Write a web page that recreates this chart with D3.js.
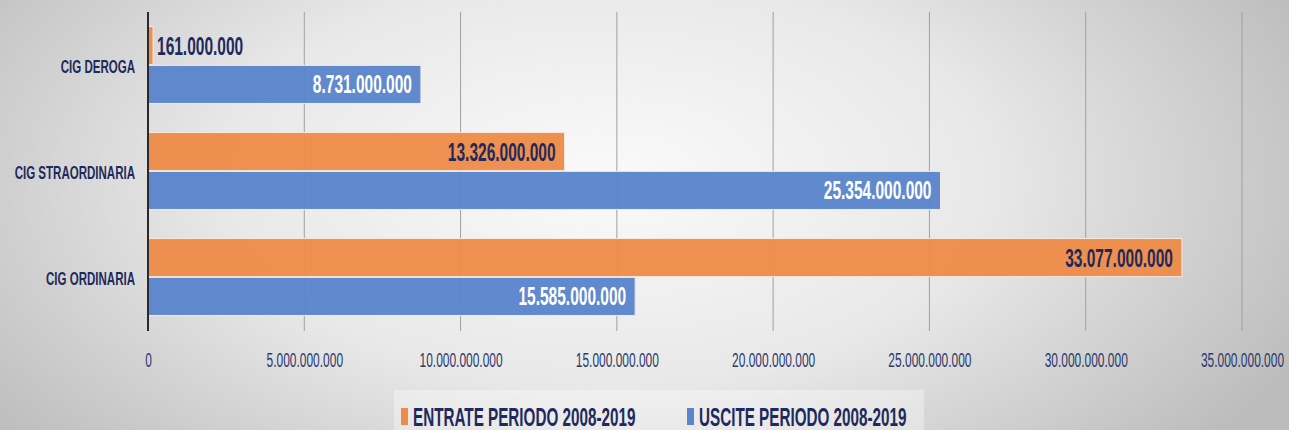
<!DOCTYPE html>
<html>
<head>
<meta charset="utf-8">
<script src="https://cdn.jsdelivr.net/npm/d3@7"></script>
<style>
  body { margin: 0; overflow: hidden; }
  text { font-family: "Liberation Sans", Arial, sans-serif; }
</style>
</head>
<body>
<div id="chart"></div>
<script>
// categories (top to bottom) and the two series
var categories = ["CIG DEROGA", "CIG STRAORDINARIA", "CIG ORDINARIA"];
var seriesNames = ["ENTRATE PERIODO 2008-2019", "USCITE PERIODO 2008-2019"];
var entrate = [161000000, 13326000000, 33077000000];
var uscite = [8731000000, 25354000000, 15585000000];
var tickValues = [0, 5e9, 10e9, 15e9, 20e9, 25e9, 30e9, 35e9];

var colors = ["#ED8B49", "#5B84CB"];
var navy = "#1F2A5C";

var W = 1289, H = 430;

// the original text is a narrow (Calibri-like) face, squeeze it horizontally
var SQ_LABEL = 0.62, SQ_TICK = 0.57, SQ_CAT = 0.64, SQ_LEG = 0.61;

// italian number format: dots for thousands
var it = d3.formatLocale({decimal: ",", thousands: ".", grouping: [3], currency: ["€", ""]});
var fmt = it.format(",d");

var svg = d3.select("#chart").append("svg")
    .attr("width", W)
    .attr("height", H);

// background gradient
var defs = svg.append("defs");
var grad = defs.append("radialGradient")
    .attr("id", "bg")
    .attr("cx", "0.47").attr("cy", "0.45").attr("r", "0.6")
    .attr("gradientTransform", "translate(0,-0.3) scale(1,1.6)");
grad.append("stop").attr("offset", "0%").attr("stop-color", "#fafafa");
grad.append("stop").attr("offset", "50%").attr("stop-color", "#e8e8e8");
grad.append("stop").attr("offset", "100%").attr("stop-color", "#bcbcbc");

svg.append("rect").attr("width", W).attr("height", H).attr("fill", "url(#bg)");

// scales
var x = d3.scaleLinear().domain([0, 35e9]).range([148, 1242]);
var y = d3.scaleBand().domain(categories).range([12, 330])
    .paddingInner(0.26).paddingOuter(0.13);
var ySub = d3.scaleBand().domain([0, 1]).range([0, y.bandwidth()]).padding(0.02);

// gridlines (extend a bit below as tick marks)
svg.append("g")
    .selectAll("line")
    .data(tickValues.slice(1))
    .enter()
    .append("line")
    .attr("x1", function (d) { return x(d); })
    .attr("x2", function (d) { return x(d); })
    .attr("y1", 12)
    .attr("y2", 331)
    .attr("stroke", "#a0a0a0")
    .attr("stroke-width", 1);

// x axis labels
var xAxis = svg.append("g")
    .attr("transform", "translate(0,331)")
    .call(d3.axisBottom(x).tickValues(tickValues).tickSize(0).tickPadding(21).tickFormat(function (d) { return fmt(d); }));
xAxis.select(".domain").remove();
xAxis.selectAll("text")
    .attr("fill", "#2D3A6C")
    .attr("transform", "scale(" + SQ_TICK + ",1)")
    .style("font-size", "21px");

// bars
var rows = categories.map(function (c, i) {
    return {cat: c, vals: [entrate[i], uscite[i]]};
});

var groups = svg.selectAll(".grp")
    .data(rows)
    .enter()
    .append("g")
    .attr("class", "grp")
    .attr("transform", function (d) { return "translate(0," + y(d.cat) + ")"; });

groups.selectAll("rect")
    .data(function (d) { return d.vals.map(function (v, k) { return {v: v, k: k}; }); })
    .enter()
    .append("rect")
    .attr("x", x(0))
    .attr("y", function (d) { return ySub(d.k); })
    .attr("width", function (d) { return x(d.v) - x(0); })
    .attr("height", ySub.bandwidth())
    .attr("fill", function (d) { return colors[d.k]; })
    .attr("fill-opacity", 0.96)
    .attr("stroke", "#f4e9e0")
    .attr("stroke-width", 1);

// data labels: outside the bar when it is too short
function isShort(d) { return x(d.v) - x(0) < 100; }

groups.selectAll(".lbl")
    .data(function (d) { return d.vals.map(function (v, k) { return {v: v, k: k}; }); })
    .enter()
    .append("text")
    .attr("class", "lbl")
    .attr("transform", function (d) {
        var tx = isShort(d) ? x(d.v) + 4 : x(d.v) - 9;
        var ty = ySub(d.k) + ySub.bandwidth() / 2;
        return "translate(" + tx + "," + ty + ") scale(" + SQ_LABEL + ",1)";
    })
    .attr("dy", "0.36em")
    .attr("text-anchor", function (d) { return isShort(d) ? "start" : "end"; })
    .attr("fill", function (d) {
        if (isShort(d)) return navy;
        return d.k === 0 ? navy : "#ffffff";
    })
    .style("font-size", "25px")
    .style("font-weight", "bold")
    .text(function (d) { return fmt(d.v); });

// left axis line
svg.append("line")
    .attr("x1", x(0)).attr("x2", x(0))
    .attr("y1", 12).attr("y2", 331)
    .attr("stroke", "#2a2a2a")
    .attr("stroke-width", 2);

// category labels
svg.append("g")
    .selectAll("text")
    .data(categories)
    .enter()
    .append("text")
    .attr("transform", function (d) {
        return "translate(135," + (y(d) + y.bandwidth() / 2 + 2) + ") scale(" + SQ_CAT + ",1)";
    })
    .attr("dy", "0.36em")
    .attr("text-anchor", "end")
    .attr("fill", navy)
    .style("font-size", "18px")
    .style("font-weight", "bold")
    .text(function (d) { return d; });

// legend
svg.append("rect")
    .attr("x", 394).attr("y", 390)
    .attr("width", 530).attr("height", 40)
    .attr("fill", "#ffffff").attr("opacity", 0.35);

var legendX = [401, 687];
var legend = svg.selectAll(".leg")
    .data(seriesNames)
    .enter()
    .append("g")
    .attr("class", "leg")
    .attr("transform", function (d, i) { return "translate(" + legendX[i] + ",408)"; });

legend.append("rect")
    .attr("width", 7).attr("height", 17)
    .attr("fill", function (d, i) { return colors[i]; });

legend.append("text")
    .attr("transform", "translate(12,9) scale(" + SQ_LEG + ",1)")
    .attr("dy", "0.36em")
    .attr("fill", navy)
    .style("font-size", "25px")
    .style("font-weight", "bold")
    .text(function (d) { return d; });
</script>
</body>
</html>
